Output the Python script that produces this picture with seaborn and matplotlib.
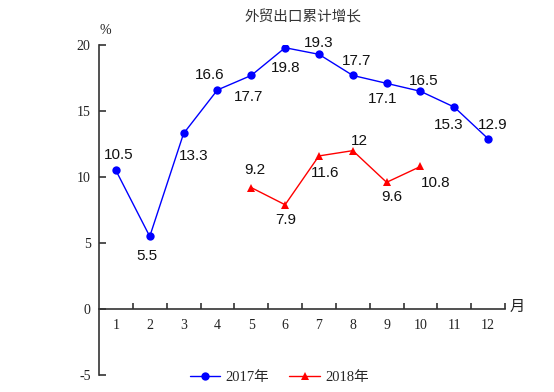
import matplotlib
matplotlib.use("Agg")
import matplotlib.pyplot as plt
import seaborn as sns
import pandas as pd
import numpy as np
from matplotlib.lines import Line2D

months = list(range(1, 13))
vals_2017 = [10.5, 5.5, 13.3, 16.6, 17.7, 19.8, 19.3, 17.7, 17.1, 16.5, 15.3, 12.9]
months_2018 = [5, 6, 7, 8, 9, 10]
vals_2018 = [9.2, 7.9, 11.6, 12, 9.6, 10.8]
labels_2017 = ["10.5", "5.5", "13.3", "16.6", "17.7", "19.8", "19.3", "17.7", "17.1", "16.5", "15.3", "12.9"]
labels_2018 = ["9.2", "7.9", "11.6", "12", "9.6", "10.8"]
y_ticks = [-5, 0, 5, 10, 15, 20]

sns.set_theme(style="white")
plt.rcParams['font.family'] = ['Liberation Serif', 'Noto Sans CJK SC']

df = pd.DataFrame({
    "month": months + months_2018,
    "value": vals_2017 + vals_2018,
    "year": ["2017年"] * len(months) + ["2018年"] * len(months_2018),
})

fig = plt.figure(figsize=(5.54, 3.92), dpi=100)
ax = fig.add_axes([0.1787, 0.0434, 0.7329, 0.8416])

sns.lineplot(data=df, x="month", y="value", hue="year", style="year",
             palette={"2017年": "#0000FF", "2018年": "#FF0000"},
             markers={"2017年": "o", "2018年": "^"}, dashes=False,
             markersize=6, markeredgewidth=0, linewidth=1.0, ax=ax, legend=False)

ax.set_xlim(0.5, 12.5)
ax.set_ylim(-5, 20)
ax.set_xlabel("")
ax.set_ylabel("")

for s in ["top", "right"]:
    ax.spines[s].set_visible(False)
ax.spines["bottom"].set_position(("data", 0))
ax.spines["left"].set_color("#333333")
ax.spines["bottom"].set_color("#333333")
ax.spines["left"].set_linewidth(1.2)
ax.spines["bottom"].set_linewidth(1.2)

ax.set_yticks(y_ticks)
ax.set_yticklabels([str(v) for v in y_ticks], fontsize=10, color="#222222")
ax.tick_params(axis="y", direction="in", length=5, width=1.2, color="#333333", pad=6, left=True)

ax.set_xticks(months)
ax.set_xticklabels([str(m) for m in months], fontsize=10, color="#222222")
ax.tick_params(axis="x", which="major", length=0, pad=7)
ax.set_xticks(np.arange(1.5, 13.0, 1.0), minor=True)
ax.tick_params(axis="x", which="minor", direction="in", length=4, width=1.2, color="#333333", bottom=True)

lab_font = dict(fontsize=11, family=['Liberation Sans', 'DejaVu Sans'], color="#111111")
off17 = [(3, 15), (-3, -20), (10, -23), (-8, 15), (-3, -22), (1, -20),
         (0, 11), (4, 14), (-4, -16), (3, 10), (-6, -18), (5, 14)]
for x, y, t, (dx, dy) in zip(months, vals_2017, labels_2017, off17):
    ax.annotate(t, (x, y), xytext=(dx, dy), textcoords="offset pixels", ha="center", va="center", **lab_font)
off18 = [(4, 18), (1, -15), (6, -17), (7, 10), (5, -15), (15, -17)]
for x, y, t, (dx, dy) in zip(months_2018, vals_2018, labels_2018, off18):
    ax.annotate(t, (x, y), xytext=(dx, dy), textcoords="offset pixels", ha="center", va="center", **lab_font)

fig.text(0.547, 0.955, "外贸出口累计增长", ha="center", va="center", fontsize=10.5,
         color="#333333", family=['Noto Sans CJK SC'])
fig.text(0.19, 0.922, "%", ha="center", va="center", fontsize=10, color="#222222")
ax.annotate("月", (12.5, 0), xytext=(12, 3), textcoords="offset pixels", ha="center", va="center",
            fontsize=11, color="#222222", family=['Noto Sans CJK SC'])

handles = [Line2D([], [], color="#0000FF", marker="o", markersize=6, markeredgewidth=0, lw=1.0),
           Line2D([], [], color="#FF0000", marker="^", markersize=6, markeredgewidth=0, lw=1.0)]
fig.legend(handles, ["2017年", "2018年"], loc="center", bbox_to_anchor=(0.504, 0.038), ncol=2,
           frameon=False, fontsize=10.5, handlelength=2.1, columnspacing=1.4, handletextpad=0.35)

fig.savefig("out.png", dpi=100)
